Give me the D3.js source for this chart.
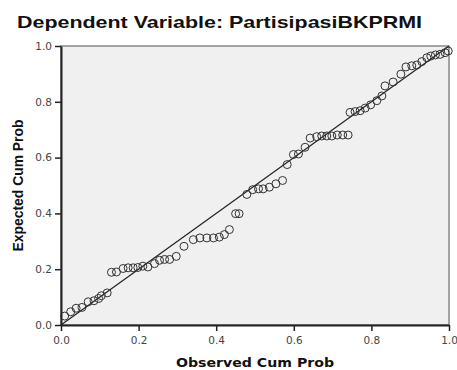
<!DOCTYPE html>
<html><head><meta charset="utf-8">
<script src="https://cdn.jsdelivr.net/npm/d3@7"></script>
<style>body{margin:0;background:#fff}svg{display:block}</style>
</head><body>
<script>
const title = "Dependent Variable: PartisipasiBKPRMI";
const xLabel = "Observed Cum Prob";
const yLabel = "Expected Cum Prob";
const tickValues = [0, 0.2, 0.4, 0.6, 0.8, 1.0];
const observed = [0.0095,0.025,0.039,0.054,0.070,0.085,0.097,0.104,0.119,0.130,0.143,0.160,0.173,0.186,0.198,0.211,0.224,0.241,0.254,0.267,0.280,0.297,0.317,0.341,0.358,0.376,0.393,0.408,0.421,0.434,0.450,0.459,0.479,0.494,0.509,0.521,0.537,0.554,0.571,0.583,0.599,0.612,0.629,0.642,0.659,0.672,0.685,0.698,0.712,0.726,0.740,0.745,0.758,0.771,0.784,0.798,0.814,0.827,0.835,0.856,0.876,0.889,0.904,0.917,0.930,0.943,0.953,0.965,0.977,0.990,0.998];
const expected = [0.032,0.0475,0.060,0.063,0.083,0.087,0.095,0.105,0.115,0.189,0.190,0.2025,0.205,0.205,0.206,0.211,0.208,0.220,0.232,0.235,0.235,0.246,0.282,0.306,0.312,0.312,0.312,0.315,0.324,0.342,0.399,0.399,0.468,0.485,0.488,0.488,0.494,0.506,0.518,0.575,0.611,0.613,0.637,0.670,0.675,0.6775,0.6775,0.6775,0.681,0.681,0.681,0.762,0.765,0.768,0.7775,0.789,0.804,0.821,0.857,0.871,0.899,0.925,0.929,0.932,0.944,0.958,0.964,0.968,0.970,0.976,0.982];

const W = 457, H = 370;
const m = {left: 61, right: 8, top: 46, bottom: 45};
const svg = d3.select("body").append("svg").attr("width", W).attr("height", H);
const x = d3.scaleLinear().domain([0,1]).range([m.left, W - m.right]);
const y = d3.scaleLinear().domain([0,1]).range([H - m.bottom, m.top]);

svg.append("rect").attr("x", x(0)).attr("y", y(1)).attr("width", x(1)-x(0)).attr("height", y(0)-y(1))
  .attr("fill", "#f0f0f0").attr("stroke", "#888").attr("stroke-width", 1.5);

svg.append("line").attr("x1", x(0)).attr("y1", y(0)).attr("x2", x(1)).attr("y2", y(1))
  .attr("stroke", "#222").attr("stroke-width", 1.2);

svg.append("g").selectAll("circle").data(observed.map((o,i)=>[o, expected[i]])).join("circle")
  .attr("cx", d => x(d[0])).attr("cy", d => y(d[1])).attr("r", 4)
  .attr("fill", "none").attr("stroke", "#333").attr("stroke-width", 1);

const fmt = d3.format(".1f");
const xa = svg.append("g").attr("transform", `translate(0,${y(0)})`)
  .call(d3.axisBottom(x).tickValues(tickValues).tickFormat(fmt).tickSize(6).tickSizeOuter(0));
const ya = svg.append("g").attr("transform", `translate(${x(0)},0)`)
  .call(d3.axisLeft(y).tickValues(tickValues).tickFormat(fmt).tickSize(6).tickSizeOuter(0));
[xa, ya].forEach(a => {
  a.select(".domain").attr("stroke", "#222").attr("stroke-width", 2);
  a.selectAll(".tick line").attr("stroke", "#222").attr("stroke-width", 1.5);
  a.selectAll("text").attr("font-family", "DejaVu Sans, sans-serif").attr("font-size", 10.5).attr("fill", "#444");
});
xa.selectAll("text").attr("dy", "0.95em");

svg.append("text").attr("x", 17).attr("y", 28).text(title)
  .attr("font-family", "Liberation Sans, Arial, sans-serif").attr("font-weight", "bold").attr("font-size", 17)
  .attr("textLength", 405).attr("lengthAdjust", "spacingAndGlyphs").attr("fill", "#111");
svg.append("text").attr("x", (x(0)+x(1))/2).attr("y", 367).attr("text-anchor", "middle").text(xLabel)
  .attr("font-family", "DejaVu Sans, sans-serif").attr("font-weight", "bold").attr("font-size", 13)
  .attr("textLength", 158).attr("lengthAdjust", "spacingAndGlyphs").attr("fill", "#111");
svg.append("text").attr("transform", `translate(23,${(y(0)+y(1))/2}) rotate(-90)`).attr("text-anchor", "middle").text(yLabel)
  .attr("font-family", "Liberation Sans, Arial, sans-serif").attr("font-weight", "bold").attr("font-size", 14.5)
  .attr("textLength", 132).attr("lengthAdjust", "spacingAndGlyphs").attr("fill", "#111");
</script>
</body></html>
